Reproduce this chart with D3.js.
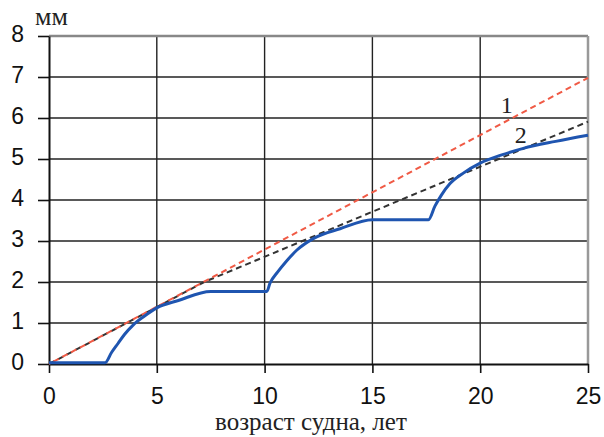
<!DOCTYPE html>
<html>
<head>
<meta charset="utf-8">
<script src="https://cdn.jsdelivr.net/npm/d3@7"></script>
<style>
  body { margin: 0; background: #fff; }
  svg { display: block; }
  .tick text { font-family: "Liberation Sans", Arial, sans-serif; font-size: 23px; fill: #111; }
</style>
</head>
<body>
<script>
// data
var xTicks = [0, 5, 10, 15, 20, 25];
var yTicks = [0, 1, 2, 3, 4, 5, 6, 7, 8];

// line 1 (red) and line 2 (black); both leave the origin together
var line1Age = [0, 25];
var line1Mm  = [0, 6.98];
var line2Age = [0, 7.2, 25];
var line2Mm  = [0, 2.0, 5.91];

// blue wear curve: age (years), depth (mm)
var wearAge = [0, 2.6, 2.9, 3.2, 3.5, 3.9, 4.4, 5, 6, 7.5, 10.1, 10.25, 10.6, 11, 11.5, 12.3, 13.5, 15, 17.6, 17.9, 18.2, 18.6, 19.2, 20, 21, 22, 23.5, 25];
var wearMm  = [0.03, 0.03, 0.28, 0.5, 0.72, 0.95, 1.16, 1.37, 1.55, 1.77, 1.77, 1.97, 2.24, 2.5, 2.78, 3.07, 3.3, 3.52, 3.52, 3.85, 4.12, 4.4, 4.65, 4.9, 5.1, 5.26, 5.43, 5.58];

var W = 604, H = 437;
var margin = {top: 36, right: 16, bottom: 73, left: 49},
    width = W - margin.left - margin.right,
    height = H - margin.top - margin.bottom;

var svg = d3.select("body").append("svg")
    .attr("width", W)
    .attr("height", H);

var g = svg.append("g")
    .attr("transform", "translate(" + margin.left + "," + margin.top + ")");

var x = d3.scaleLinear().domain([0, 25]).range([0, width]);
var y = d3.scaleLinear().domain([0, 8]).range([height, 0]);

// grid
g.selectAll(".hgrid")
    .data(yTicks.filter(function(d) { return d > 0 && d < 8; }))
  .enter().append("line")
    .attr("x1", 0).attr("x2", width)
    .attr("y1", function(d) { return y(d); })
    .attr("y2", function(d) { return y(d); })
    .attr("stroke", "#222").attr("stroke-width", 1.4);

g.selectAll(".vgrid")
    .data(xTicks.filter(function(d) { return d > 0 && d < 25; }))
  .enter().append("line")
    .attr("y1", 0).attr("y2", height)
    .attr("x1", function(d) { return x(d); })
    .attr("x2", function(d) { return x(d); })
    .attr("stroke", "#222").attr("stroke-width", 1.4);

// top and right border (grey)
g.append("line").attr("x1", 0).attr("x2", width).attr("y1", y(8)).attr("y2", y(8))
    .attr("stroke", "#888").attr("stroke-width", 2.5);
g.append("line").attr("x1", x(25)).attr("x2", x(25)).attr("y1", 0).attr("y2", height)
    .attr("stroke", "#999").attr("stroke-width", 2.5);

// axes
var xAxis = d3.axisBottom(x).tickValues(xTicks).tickSize(9).tickPadding(16).tickSizeOuter(0);
var yAxis = d3.axisLeft(y).tickValues(yTicks).tickSize(11).tickPadding(14).tickSizeOuter(0);

var gx = g.append("g")
    .attr("transform", "translate(0," + height + ")")
    .call(xAxis);
var gy = g.append("g").call(yAxis);

[gx, gy].forEach(function(a) {
  a.select(".domain").attr("stroke", "#111").attr("stroke-width", 2);
  a.selectAll(".tick line").attr("stroke", "#111").attr("stroke-width", 1.6);
});
gx.selectAll(".tick text").attr("dy", "0.65em");
gy.selectAll(".tick text").attr("dy", "0.26em");

var lineGen = d3.line()
    .x(function(d) { return x(d[0]); })
    .y(function(d) { return y(d[1]); });

function pairs(a, b) { return a.map(function(v, i) { return [v, b[i]]; }); }

g.append("path")
    .attr("d", lineGen(pairs(line2Age, line2Mm)))
    .attr("fill", "none")
    .attr("stroke", "#333")
    .attr("stroke-width", 2)
    .attr("stroke-dasharray", "6,4");

g.append("path")
    .attr("d", lineGen(pairs(line1Age, line1Mm)))
    .attr("fill", "none")
    .attr("stroke", "#f05a45")
    .attr("stroke-width", 2)
    .attr("stroke-dasharray", "6,4")
    .attr("stroke-dashoffset", 5);

g.append("path")
    .attr("d", lineGen.curve(d3.curveMonotoneX)(pairs(wearAge, wearMm)))
    .attr("fill", "none")
    .attr("stroke", "#1f55b0")
    .attr("stroke-width", 3);

// curve numbers
var serif = "'Liberation Serif', 'Times New Roman', serif";
g.append("text")
    .attr("x", x(20.95)).attr("y", y(6.12))
    .style("font-family", serif)
    .style("font-size", "24px")
    .attr("fill", "#222")
    .text("1");
g.append("text")
    .attr("x", x(21.6)).attr("y", y(5.4))
    .style("font-family", serif)
    .style("font-size", "24px")
    .attr("fill", "#222")
    .text("2");

// unit label and axis title
svg.append("text")
    .attr("x", 35).attr("y", 25)
    .style("font-family", serif)
    .style("font-size", "26px")
    .attr("fill", "#222")
    .text("мм");

svg.append("text")
    .attr("x", 311).attr("y", 430)
    .attr("text-anchor", "middle")
    .style("font-family", serif)
    .style("font-size", "25px")
    .attr("fill", "#222")
    .text("возраст судна, лет");
</script>
</body>
</html>
